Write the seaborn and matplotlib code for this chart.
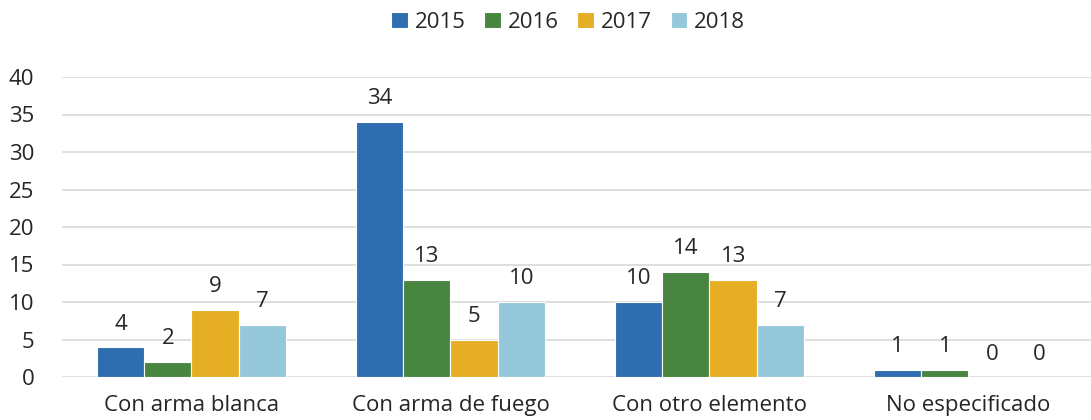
import matplotlib
matplotlib.use("Agg")
import matplotlib.pyplot as plt
import seaborn as sns
import pandas as pd

categories = ["Con arma blanca", "Con arma de fuego", "Con otro elemento", "No especificado"]
years = ["2015", "2016", "2017", "2018"]
v2015 = [4, 34, 10, 1]
v2016 = [2, 13, 14, 1]
v2017 = [9, 5, 13, 0]
v2018 = [7, 10, 7, 0]
colors = ["#2E6DB0", "#478540", "#E6AE24", "#96C8DC"]

rows = []
for y, vals in zip(years, [v2015, v2016, v2017, v2018]):
    for c, v in zip(categories, vals):
        rows.append({"cat": c, "year": y, "val": v})
df = pd.DataFrame(rows)

sns.set_theme(style="white")
plt.rcParams["font.family"] = ["Open Sans", "DejaVu Sans"]

FS = 16
fig = plt.figure(figsize=(10.91, 4.20), dpi=100)
ax = fig.add_axes([62/1091, 43/420, 1 - 62/1091, 300/420])
sns.barplot(data=df, x="cat", y="val", hue="year", palette=colors, ax=ax,
            width=0.73, edgecolor="white", linewidth=0.8, saturation=1)

for cont in ax.containers:
    ax.bar_label(cont, fmt="%d", padding=9, fontsize=FS, color="#262626")

ax.set_ylim(0, 40)
ax.set_xlim(-0.5, 3.473)
ax.set_yticks(range(0, 41, 5))
ax.yaxis.grid(True, color="#D9D9D9", linewidth=1.2)
ax.set_axisbelow(True)
for s in ax.spines.values():
    s.set_visible(False)
ax.set_xlabel("")
ax.set_ylabel("")
ax.tick_params(axis="both", length=0, labelsize=FS, colors="#262626")
ax.tick_params(axis="y", pad=20)
ax.tick_params(axis="x", pad=13)

handles, labels = ax.get_legend_handles_labels()
ax.get_legend().remove()
fig.legend(handles, labels, loc="center", bbox_to_anchor=(568/1091, 1 - 22/420), ncol=4,
           frameon=False, fontsize=FS, handlelength=0.75, handleheight=0.75,
           handletextpad=0.3, columnspacing=0.85, labelcolor="#262626")

fig.savefig("out.png", dpi=100)
